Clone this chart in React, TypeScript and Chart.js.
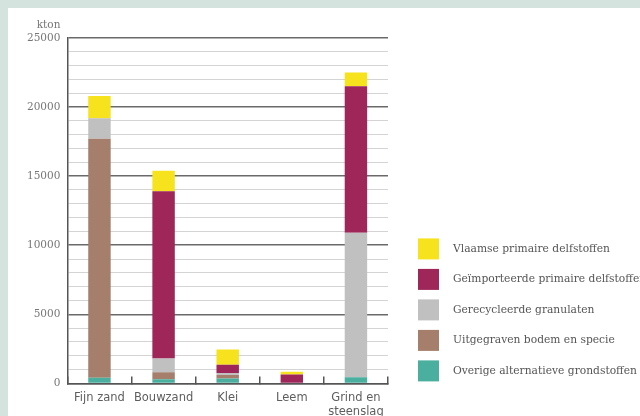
import React, { useEffect, useRef } from "react";
import { Chart, registerables } from "chart.js";

Chart.register(...registerables);

const categories: (string | string[])[] = ["Fijn zand", "Bouwzand", "Klei", "Leem", ["Grind en", "steenslag"]];

const overige = [400, 300, 350, 0, 450];
const uitgegraven = [17300, 500, 250, 50, 0];
const gerecycleerd = [1500, 1000, 150, 0, 10450];
const geimporteerd = [0, 12100, 600, 600, 10600];
const vlaams = [1600, 1500, 1100, 200, 1000];

const seriesLabels = [
  "Overige alternatieve grondstoffen",
  "Uitgegraven bodem en specie",
  "Gerecycleerde granulaten",
  "Geïmporteerde primaire delfstoffen",
  "Vlaamse primaire delfstoffen",
];
const seriesColors = ["#4aaf9f", "#a57f6b", "#c0c0c0", "#9e2658", "#f6e31e"];

const yMax = 25000;
const yStep = 1000;
const yMajor = 5000;
const unitLabel = "kton";

const legendPlugin = {
  id: "sideLegend",
  afterDraw(chart: any) {
    const { ctx, chartArea } = chart;
    const ds = chart.data.datasets;
    const n = ds.length;
    const box = 21;
    const gap = 30.5;
    const x0 = chartArea.right + 30;
    const lastTop = chartArea.bottom - 23;
    ctx.save();
    ctx.font = "10.7px 'DejaVu Serif'";
    ctx.textBaseline = "middle";
    ctx.textAlign = "left";
    for (let i = 0; i < n; i++) {
      const d = ds[n - 1 - i];
      const top = lastTop - (n - 1 - i) * gap;
      ctx.fillStyle = d.backgroundColor;
      ctx.fillRect(x0, top, box, box);
      ctx.fillStyle = "#555";
      ctx.fillText(d.label, x0 + 35, top + box / 2);
    }
    ctx.restore();
  },
};

const unitPlugin = {
  id: "unitLabel",
  afterDraw(chart: any) {
    const { ctx, chartArea } = chart;
    const ys = chart.scales.y;
    ctx.save();
    ctx.font = "10.5px 'DejaVu Serif'";
    ctx.fillStyle = "#777";
    ctx.textAlign = "right";
    ctx.textBaseline = "middle";
    ctx.fillText(unitLabel, ys.right - 7, chartArea.top - 13);
    ctx.restore();
  },
};

export default function App() {
  const ref = useRef<HTMLCanvasElement>(null);
  useEffect(() => {
    if (!ref.current) return;
    const values = [overige, uitgegraven, gerecycleerd, geimporteerd, vlaams];
    const chart = new Chart(ref.current, {
      type: "bar",
      data: {
        labels: categories,
        datasets: values.map((v, i) => ({
          label: seriesLabels[i],
          data: v,
          backgroundColor: seriesColors[i],
          borderWidth: 0,
          barPercentage: 0.35,
          categoryPercentage: 1,
        })),
      },
      options: {
        responsive: false,
        animation: false,
        devicePixelRatio: 1,
        layout: { padding: { top: 30, left: 12, right: 252, bottom: 0 } },
        plugins: { legend: { display: false }, tooltip: { enabled: false } },
        scales: {
          x: {
            stacked: true,
            offset: true,
            border: { display: true, color: "#555", width: 1.5 },
            grid: {
              offset: true,
              drawOnChartArea: false,
              drawTicks: true,
              tickLength: -7,
              color: "#555",
              lineWidth: 1.5,
            },
            ticks: {
              padding: 15,
              color: "#5e5e5e",
              font: { family: "'DejaVu Sans'", size: 11.5 },
              maxRotation: 0,
              autoSkip: false,
            },
          },
          y: {
            stacked: true,
            min: 0,
            max: yMax,
            border: { display: true, color: "#555", width: 1.5 },
            grid: {
              drawTicks: false,
              color: (c: any) => (c.tick && c.tick.value % yMajor === 0 ? "#6a6a6a" : "#d4d4d4"),
              lineWidth: (c: any) => (c.tick && c.tick.value % yMajor === 0 ? 1.5 : 1),
            },
            ticks: {
              stepSize: yStep,
              autoSkip: false,
              padding: 7,
              color: "#777",
              font: { family: "'DejaVu Serif'", size: 10.5 },
              callback: (v: any) => (Number(v) % yMajor === 0 ? String(v) : ""),
            },
          },
        },
      },
      plugins: [legendPlugin, unitPlugin],
    });
    return () => chart.destroy();
  }, []);

  return (
    <div style={{ position: "fixed", left: 0, top: 0, width: 640, height: 416, background: "#d5e3df", overflow: "hidden" }}>
      <div style={{ position: "absolute", left: 8, top: 8, width: 640, height: 440, background: "#ffffff" }}>
        <canvas ref={ref} width={632} height={426} style={{ width: 632, height: 426, display: "block" }} />
      </div>
    </div>
  );
}
